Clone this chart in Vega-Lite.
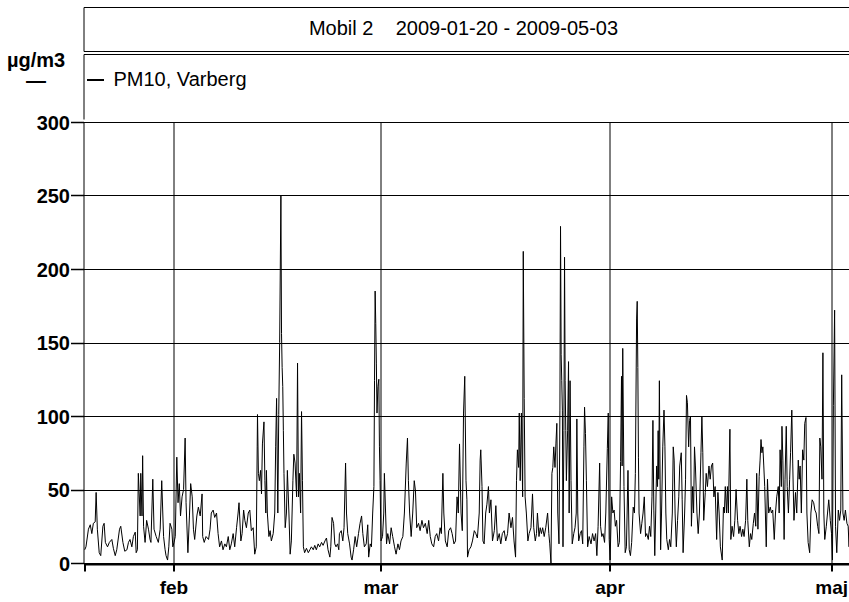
{
"$schema": "https://vega.github.io/schema/vega-lite/v6.json",
"background": "white",
"padding": {"left": 5.5, "top": 7, "right": 0, "bottom": 0},
"bounds": "flush",
"spacing": 3,
"config": {"font": "Liberation Sans", "view": {"stroke": null}},
"vconcat": [
{
"width": 766, "height": 44,
"data": {"values": [{"label": "Mobil 2\u00a0\u00a0\u00a0\u00a02009-01-20 - 2009-05-03"}]},
"mark": {"type": "text", "fontSize": 20, "font": "Liberation Sans", "color": "black", "baseline": "middle", "align": "center", "dx": -3},
"encoding": {
"text": {"field": "label"},
"y": {"datum": 0.5, "type": "quantitative", "scale": {"domain": [0, 1], "nice": false, "zero": false},
"axis": {"title": null, "labels": false, "ticks": false, "domain": true, "domainColor": "black", "domainWidth": 1, "grid": true, "gridColor": "black", "gridWidth": 1, "values": [0, 1]}}
}
},
{
"width": 766, "height": 65,
"data": {"values": []},
"mark": {"type": "point", "opacity": 0},
"encoding": {
"y": {"field": "e", "type": "quantitative", "scale": {"domain": [0, 1], "nice": false, "zero": false},
"axis": {"title": null, "labels": false, "ticks": false, "domain": true, "domainColor": "black", "domainWidth": 1, "grid": true, "gridColor": "black", "gridWidth": 1, "values": [1]}}
}
},
{
"width": 766, "height": 441,
"data": {"values": [
{"t":"2009-01-20T00:00","v":9},{"t":"2009-01-20T04:00","v":11},{"t":"2009-01-20T12:00","v":23},{"t":"2009-01-20T18:00","v":26},{"t":"2009-01-20T23:00","v":20},
{"t":"2009-01-21T04:00","v":27},{"t":"2009-01-21T10:00","v":28},{"t":"2009-01-21T13:00","v":48},{"t":"2009-01-21T17:00","v":23},{"t":"2009-01-21T23:00","v":7},
{"t":"2009-01-22T04:00","v":5},{"t":"2009-01-22T11:00","v":25},{"t":"2009-01-22T15:00","v":27},{"t":"2009-01-22T19:00","v":14},
{"t":"2009-01-23T02:00","v":11},{"t":"2009-01-23T08:00","v":14},{"t":"2009-01-23T16:00","v":16},{"t":"2009-01-23T21:00","v":10},
{"t":"2009-01-24T03:00","v":5},{"t":"2009-01-24T08:00","v":9},{"t":"2009-01-24T17:00","v":23},{"t":"2009-01-24T21:00","v":25},
{"t":"2009-01-25T04:00","v":14},{"t":"2009-01-25T10:00","v":8},{"t":"2009-01-25T17:00","v":9},{"t":"2009-01-25T22:00","v":14},
{"t":"2009-01-26T03:00","v":16},{"t":"2009-01-26T09:00","v":11},{"t":"2009-01-26T14:00","v":18},{"t":"2009-01-26T20:00","v":21},{"t":"2009-01-26T23:00","v":7},
{"t":"2009-01-27T03:00","v":9},{"t":"2009-01-27T06:00","v":61},{"t":"2009-01-27T12:00","v":32},{"t":"2009-01-27T14:00","v":61},{"t":"2009-01-27T18:00","v":32},{"t":"2009-01-27T20:00","v":73},{"t":"2009-01-27T23:00","v":25},
{"t":"2009-01-28T04:00","v":14},{"t":"2009-01-28T09:00","v":29},{"t":"2009-01-28T15:00","v":23},{"t":"2009-01-28T20:00","v":16},{"t":"2009-01-28T23:00","v":14},
{"t":"2009-01-29T05:00","v":57},{"t":"2009-01-29T09:00","v":23},{"t":"2009-01-29T16:00","v":18},{"t":"2009-01-29T23:00","v":14},
{"t":"2009-01-30T05:00","v":23},{"t":"2009-01-30T10:00","v":56},{"t":"2009-01-30T16:00","v":18},{"t":"2009-01-30T21:00","v":9},
{"t":"2009-01-31T00:00","v":5},{"t":"2009-01-31T05:00","v":2},{"t":"2009-01-31T09:00","v":11},{"t":"2009-01-31T13:00","v":27},{"t":"2009-01-31T19:00","v":23},{"t":"2009-01-31T22:00","v":11},
{"t":"2009-02-01T02:00","v":14},{"t":"2009-02-01T06:00","v":18},{"t":"2009-02-01T11:00","v":72},{"t":"2009-02-01T15:00","v":41},{"t":"2009-02-01T19:00","v":54},{"t":"2009-02-01T23:00","v":32},
{"t":"2009-02-02T04:00","v":45},{"t":"2009-02-02T09:00","v":50},{"t":"2009-02-02T14:00","v":85},{"t":"2009-02-02T17:00","v":41},{"t":"2009-02-02T23:00","v":7},
{"t":"2009-02-03T04:00","v":32},{"t":"2009-02-03T08:00","v":54},{"t":"2009-02-03T13:00","v":45},{"t":"2009-02-03T17:00","v":23},{"t":"2009-02-03T21:00","v":16},
{"t":"2009-02-04T04:00","v":32},{"t":"2009-02-04T09:00","v":38},{"t":"2009-02-04T15:00","v":32},{"t":"2009-02-04T21:00","v":47},{"t":"2009-02-04T23:00","v":18},
{"t":"2009-02-05T04:00","v":14},{"t":"2009-02-05T10:00","v":18},{"t":"2009-02-05T18:00","v":16},{"t":"2009-02-05T23:00","v":23},
{"t":"2009-02-06T03:00","v":34},{"t":"2009-02-06T09:00","v":36},{"t":"2009-02-06T14:00","v":31},{"t":"2009-02-06T20:00","v":34},
{"t":"2009-02-07T01:00","v":20},{"t":"2009-02-07T06:00","v":11},{"t":"2009-02-07T12:00","v":15},{"t":"2009-02-07T17:00","v":9},{"t":"2009-02-07T23:00","v":13},
{"t":"2009-02-08T04:00","v":11},{"t":"2009-02-08T10:00","v":18},{"t":"2009-02-08T15:00","v":9},{"t":"2009-02-08T20:00","v":13},
{"t":"2009-02-09T02:00","v":20},{"t":"2009-02-09T07:00","v":11},{"t":"2009-02-09T13:00","v":24},{"t":"2009-02-09T18:00","v":34},{"t":"2009-02-09T21:00","v":41},
{"t":"2009-02-10T03:00","v":15},{"t":"2009-02-10T07:00","v":20},{"t":"2009-02-10T12:00","v":36},{"t":"2009-02-10T16:00","v":29},{"t":"2009-02-10T21:00","v":24},
{"t":"2009-02-11T03:00","v":34},{"t":"2009-02-11T08:00","v":36},{"t":"2009-02-11T13:00","v":22},{"t":"2009-02-11T19:00","v":24},
{"t":"2009-02-12T00:00","v":6},{"t":"2009-02-12T05:00","v":11},{"t":"2009-02-12T08:00","v":79},{"t":"2009-02-12T09:00","v":101},{"t":"2009-02-12T12:00","v":61},{"t":"2009-02-12T15:00","v":56},{"t":"2009-02-12T19:00","v":63},{"t":"2009-02-12T22:00","v":47},
{"t":"2009-02-13T01:00","v":81},{"t":"2009-02-13T06:00","v":96},{"t":"2009-02-13T09:00","v":56},{"t":"2009-02-13T12:00","v":34},{"t":"2009-02-13T14:00","v":63},{"t":"2009-02-13T17:00","v":34},{"t":"2009-02-13T22:00","v":18},
{"t":"2009-02-14T02:00","v":22},{"t":"2009-02-14T06:00","v":15},{"t":"2009-02-14T12:00","v":20},{"t":"2009-02-14T17:00","v":34},{"t":"2009-02-14T20:00","v":79},{"t":"2009-02-14T23:00","v":112},
{"t":"2009-02-15T03:00","v":34},{"t":"2009-02-15T06:00","v":101},{"t":"2009-02-15T09:00","v":150},{"t":"2009-02-15T13:00","v":250},{"t":"2009-02-15T15:00","v":156},{"t":"2009-02-15T17:00","v":133},{"t":"2009-02-15T19:00","v":120},{"t":"2009-02-15T21:00","v":90},{"t":"2009-02-15T23:00","v":61},
{"t":"2009-02-16T03:00","v":24},{"t":"2009-02-16T07:00","v":34},{"t":"2009-02-16T10:00","v":63},{"t":"2009-02-16T15:00","v":34},{"t":"2009-02-16T19:00","v":6},{"t":"2009-02-16T23:00","v":15},
{"t":"2009-02-17T04:00","v":56},{"t":"2009-02-17T07:00","v":74},{"t":"2009-02-17T11:00","v":68},{"t":"2009-02-17T16:00","v":45},{"t":"2009-02-17T19:00","v":136},{"t":"2009-02-17T22:00","v":45},
{"t":"2009-02-18T01:00","v":61},{"t":"2009-02-18T05:00","v":34},{"t":"2009-02-18T08:00","v":103},{"t":"2009-02-18T11:00","v":56},{"t":"2009-02-18T14:00","v":11},{"t":"2009-02-18T18:00","v":7},
{"t":"2009-02-19T00:00","v":10},{"t":"2009-02-19T06:00","v":7},{"t":"2009-02-19T11:00","v":9},{"t":"2009-02-19T16:00","v":11},{"t":"2009-02-19T22:00","v":9},
{"t":"2009-02-20T03:00","v":12},{"t":"2009-02-20T08:00","v":9},{"t":"2009-02-20T14:00","v":13},{"t":"2009-02-20T19:00","v":11},
{"t":"2009-02-21T01:00","v":14},{"t":"2009-02-21T06:00","v":12},{"t":"2009-02-21T12:00","v":15},{"t":"2009-02-21T17:00","v":17},{"t":"2009-02-21T22:00","v":9},
{"t":"2009-02-22T04:00","v":4},{"t":"2009-02-22T07:00","v":11},{"t":"2009-02-22T11:00","v":31},{"t":"2009-02-22T16:00","v":27},{"t":"2009-02-22T20:00","v":13},
{"t":"2009-02-23T00:00","v":11},{"t":"2009-02-23T05:00","v":13},{"t":"2009-02-23T09:00","v":9},{"t":"2009-02-23T11:00","v":20},{"t":"2009-02-23T17:00","v":22},{"t":"2009-02-23T22:00","v":15},
{"t":"2009-02-24T02:00","v":24},{"t":"2009-02-24T07:00","v":68},{"t":"2009-02-24T10:00","v":34},{"t":"2009-02-24T14:00","v":20},{"t":"2009-02-24T20:00","v":13},
{"t":"2009-02-25T01:00","v":4},{"t":"2009-02-25T04:00","v":2},{"t":"2009-02-25T09:00","v":9},{"t":"2009-02-25T14:00","v":18},{"t":"2009-02-25T19:00","v":11},
{"t":"2009-02-26T01:00","v":20},{"t":"2009-02-26T06:00","v":27},{"t":"2009-02-26T11:00","v":32},{"t":"2009-02-26T15:00","v":20},{"t":"2009-02-26T20:00","v":11},
{"t":"2009-02-27T02:00","v":13},{"t":"2009-02-27T07:00","v":26},{"t":"2009-02-27T10:00","v":4},{"t":"2009-02-27T15:00","v":13},{"t":"2009-02-27T19:00","v":11},{"t":"2009-02-27T23:00","v":34},
{"t":"2009-02-28T03:00","v":52},{"t":"2009-02-28T05:00","v":124},{"t":"2009-02-28T07:00","v":185},{"t":"2009-02-28T09:00","v":163},{"t":"2009-02-28T11:00","v":136},{"t":"2009-02-28T13:00","v":102},{"t":"2009-02-28T16:00","v":120},{"t":"2009-02-28T19:00","v":125},{"t":"2009-02-28T21:00","v":79},{"t":"2009-02-28T23:00","v":56},
{"t":"2009-03-01T02:00","v":15},{"t":"2009-03-01T07:00","v":18},{"t":"2009-03-01T11:00","v":34},{"t":"2009-03-01T13:00","v":61},{"t":"2009-03-01T17:00","v":34},{"t":"2009-03-01T20:00","v":13},
{"t":"2009-03-02T00:00","v":20},{"t":"2009-03-02T06:00","v":13},{"t":"2009-03-02T11:00","v":24},{"t":"2009-03-02T16:00","v":18},{"t":"2009-03-02T22:00","v":11},
{"t":"2009-03-03T03:00","v":6},{"t":"2009-03-03T09:00","v":13},{"t":"2009-03-03T14:00","v":9},{"t":"2009-03-03T19:00","v":15},
{"t":"2009-03-04T01:00","v":18},{"t":"2009-03-04T06:00","v":34},{"t":"2009-03-04T12:00","v":68},{"t":"2009-03-04T16:00","v":85},{"t":"2009-03-04T19:00","v":56},{"t":"2009-03-04T23:00","v":34},
{"t":"2009-03-05T04:00","v":18},{"t":"2009-03-05T09:00","v":34},{"t":"2009-03-05T14:00","v":56},{"t":"2009-03-05T18:00","v":49},{"t":"2009-03-05T22:00","v":24},
{"t":"2009-03-06T04:00","v":27},{"t":"2009-03-06T09:00","v":22},{"t":"2009-03-06T15:00","v":29},{"t":"2009-03-06T20:00","v":24},
{"t":"2009-03-07T02:00","v":27},{"t":"2009-03-07T08:00","v":20},{"t":"2009-03-07T13:00","v":29},{"t":"2009-03-07T18:00","v":18},{"t":"2009-03-07T23:00","v":13},
{"t":"2009-03-08T05:00","v":11},{"t":"2009-03-08T10:00","v":18},{"t":"2009-03-08T15:00","v":20},{"t":"2009-03-08T21:00","v":15},
{"t":"2009-03-09T02:00","v":24},{"t":"2009-03-09T06:00","v":20},{"t":"2009-03-09T11:00","v":61},{"t":"2009-03-09T14:00","v":34},{"t":"2009-03-09T19:00","v":15},
{"t":"2009-03-10T01:00","v":11},{"t":"2009-03-10T06:00","v":22},{"t":"2009-03-10T12:00","v":24},{"t":"2009-03-10T17:00","v":20},{"t":"2009-03-10T23:00","v":13},
{"t":"2009-03-11T04:00","v":15},{"t":"2009-03-11T09:00","v":45},{"t":"2009-03-11T13:00","v":34},{"t":"2009-03-11T17:00","v":81},{"t":"2009-03-11T22:00","v":34},
{"t":"2009-03-12T02:00","v":22},{"t":"2009-03-12T06:00","v":102},{"t":"2009-03-12T10:00","v":127},{"t":"2009-03-12T14:00","v":56},{"t":"2009-03-12T17:00","v":43},{"t":"2009-03-12T19:00","v":4},
{"t":"2009-03-13T00:00","v":9},{"t":"2009-03-13T06:00","v":11},{"t":"2009-03-13T11:00","v":15},{"t":"2009-03-13T17:00","v":22},{"t":"2009-03-13T22:00","v":20},
{"t":"2009-03-14T03:00","v":17},{"t":"2009-03-14T09:00","v":34},{"t":"2009-03-14T12:00","v":70},{"t":"2009-03-14T14:00","v":77},{"t":"2009-03-14T18:00","v":52},{"t":"2009-03-14T21:00","v":15},
{"t":"2009-03-15T01:00","v":13},{"t":"2009-03-15T06:00","v":34},{"t":"2009-03-15T10:00","v":40},{"t":"2009-03-15T15:00","v":52},{"t":"2009-03-15T18:00","v":34},{"t":"2009-03-15T23:00","v":43},
{"t":"2009-03-16T04:00","v":15},{"t":"2009-03-16T10:00","v":22},{"t":"2009-03-16T15:00","v":39},{"t":"2009-03-16T20:00","v":15},
{"t":"2009-03-17T02:00","v":20},{"t":"2009-03-17T07:00","v":13},{"t":"2009-03-17T12:00","v":20},{"t":"2009-03-17T18:00","v":22},{"t":"2009-03-17T23:00","v":15},
{"t":"2009-03-18T05:00","v":20},{"t":"2009-03-18T10:00","v":34},{"t":"2009-03-18T16:00","v":24},{"t":"2009-03-18T21:00","v":31},
{"t":"2009-03-19T02:00","v":15},{"t":"2009-03-19T07:00","v":4},{"t":"2009-03-19T10:00","v":56},{"t":"2009-03-19T13:00","v":77},{"t":"2009-03-19T17:00","v":65},{"t":"2009-03-19T19:00","v":102},{"t":"2009-03-19T22:00","v":56},
{"t":"2009-03-20T02:00","v":102},{"t":"2009-03-20T06:00","v":45},{"t":"2009-03-20T08:00","v":212},{"t":"2009-03-20T11:00","v":112},{"t":"2009-03-20T14:00","v":45},{"t":"2009-03-20T18:00","v":34},{"t":"2009-03-20T23:00","v":15},
{"t":"2009-03-21T03:00","v":20},{"t":"2009-03-21T09:00","v":24},{"t":"2009-03-21T14:00","v":47},{"t":"2009-03-21T18:00","v":24},{"t":"2009-03-21T23:00","v":15},
{"t":"2009-03-22T03:00","v":20},{"t":"2009-03-22T06:00","v":34},{"t":"2009-03-22T11:00","v":18},{"t":"2009-03-22T15:00","v":24},{"t":"2009-03-22T19:00","v":20},{"t":"2009-03-22T23:00","v":24},
{"t":"2009-03-23T04:00","v":18},{"t":"2009-03-23T09:00","v":24},{"t":"2009-03-23T15:00","v":34},{"t":"2009-03-23T19:00","v":20},{"t":"2009-03-23T22:00","v":13},
{"t":"2009-03-24T02:00","v":0},{"t":"2009-03-24T05:00","v":61},{"t":"2009-03-24T08:00","v":65},{"t":"2009-03-24T11:00","v":79},{"t":"2009-03-24T15:00","v":65},{"t":"2009-03-24T18:00","v":81},{"t":"2009-03-24T21:00","v":95},
{"t":"2009-03-25T00:00","v":34},{"t":"2009-03-25T04:00","v":13},{"t":"2009-03-25T07:00","v":104},{"t":"2009-03-25T09:00","v":229},{"t":"2009-03-25T11:00","v":142},{"t":"2009-03-25T13:00","v":124},{"t":"2009-03-25T15:00","v":104},{"t":"2009-03-25T17:00","v":11},{"t":"2009-03-25T20:00","v":90},{"t":"2009-03-25T22:00","v":208},
{"t":"2009-03-26T00:00","v":124},{"t":"2009-03-26T02:00","v":90},{"t":"2009-03-26T04:00","v":56},{"t":"2009-03-26T08:00","v":90},{"t":"2009-03-26T11:00","v":137},{"t":"2009-03-26T13:00","v":34},{"t":"2009-03-26T16:00","v":124},{"t":"2009-03-26T19:00","v":56},{"t":"2009-03-26T23:00","v":13},
{"t":"2009-03-27T04:00","v":20},{"t":"2009-03-27T08:00","v":24},{"t":"2009-03-27T12:00","v":34},{"t":"2009-03-27T14:00","v":98},{"t":"2009-03-27T17:00","v":34},{"t":"2009-03-27T20:00","v":15},
{"t":"2009-03-28T01:00","v":20},{"t":"2009-03-28T05:00","v":22},{"t":"2009-03-28T09:00","v":13},{"t":"2009-03-28T13:00","v":79},{"t":"2009-03-28T15:00","v":106},{"t":"2009-03-28T18:00","v":88},{"t":"2009-03-28T21:00","v":56},
{"t":"2009-03-29T01:00","v":11},{"t":"2009-03-29T06:00","v":18},{"t":"2009-03-29T12:00","v":13},{"t":"2009-03-29T17:00","v":20},{"t":"2009-03-29T22:00","v":15},
{"t":"2009-03-30T03:00","v":20},{"t":"2009-03-30T07:00","v":5},{"t":"2009-03-30T11:00","v":25},{"t":"2009-03-30T16:00","v":68},{"t":"2009-03-30T19:00","v":25},{"t":"2009-03-30T23:00","v":18},
{"t":"2009-03-31T03:00","v":20},{"t":"2009-03-31T08:00","v":14},{"t":"2009-03-31T12:00","v":34},{"t":"2009-03-31T17:00","v":78},{"t":"2009-03-31T20:00","v":102},{"t":"2009-03-31T23:00","v":16},
{"t":"2009-04-01T02:00","v":2},{"t":"2009-04-01T07:00","v":45},{"t":"2009-04-01T11:00","v":34},{"t":"2009-04-01T15:00","v":36},{"t":"2009-04-01T19:00","v":25},{"t":"2009-04-01T23:00","v":29},
{"t":"2009-04-02T04:00","v":11},{"t":"2009-04-02T08:00","v":14},{"t":"2009-04-02T12:00","v":69},{"t":"2009-04-02T15:00","v":127},{"t":"2009-04-02T17:00","v":66},{"t":"2009-04-02T19:00","v":146},{"t":"2009-04-02T23:00","v":52},
{"t":"2009-04-03T03:00","v":7},{"t":"2009-04-03T07:00","v":11},{"t":"2009-04-03T12:00","v":63},{"t":"2009-04-03T16:00","v":9},{"t":"2009-04-03T20:00","v":5},
{"t":"2009-04-04T00:00","v":14},{"t":"2009-04-04T05:00","v":38},{"t":"2009-04-04T09:00","v":34},{"t":"2009-04-04T12:00","v":61},{"t":"2009-04-04T16:00","v":166},{"t":"2009-04-04T18:00","v":178},{"t":"2009-04-04T20:00","v":133},{"t":"2009-04-04T22:00","v":72},
{"t":"2009-04-05T00:00","v":34},{"t":"2009-04-05T05:00","v":20},{"t":"2009-04-05T09:00","v":27},{"t":"2009-04-05T13:00","v":34},{"t":"2009-04-05T17:00","v":45},{"t":"2009-04-05T21:00","v":18},
{"t":"2009-04-06T01:00","v":20},{"t":"2009-04-06T06:00","v":16},{"t":"2009-04-06T10:00","v":25},{"t":"2009-04-06T14:00","v":18},{"t":"2009-04-06T18:00","v":45},{"t":"2009-04-06T21:00","v":97},
{"t":"2009-04-07T00:00","v":36},{"t":"2009-04-07T03:00","v":5},{"t":"2009-04-07T06:00","v":34},{"t":"2009-04-07T09:00","v":66},{"t":"2009-04-07T12:00","v":52},{"t":"2009-04-07T14:00","v":90},{"t":"2009-04-07T16:00","v":57},{"t":"2009-04-07T18:00","v":124},{"t":"2009-04-07T22:00","v":9},
{"t":"2009-04-08T01:00","v":34},{"t":"2009-04-08T05:00","v":79},{"t":"2009-04-08T09:00","v":104},{"t":"2009-04-08T12:00","v":79},{"t":"2009-04-08T15:00","v":34},{"t":"2009-04-08T18:00","v":16},{"t":"2009-04-08T23:00","v":9},
{"t":"2009-04-09T03:00","v":16},{"t":"2009-04-09T07:00","v":11},{"t":"2009-04-09T12:00","v":34},{"t":"2009-04-09T15:00","v":79},{"t":"2009-04-09T18:00","v":70},{"t":"2009-04-09T21:00","v":34},
{"t":"2009-04-10T01:00","v":11},{"t":"2009-04-10T05:00","v":29},{"t":"2009-04-10T09:00","v":45},{"t":"2009-04-10T12:00","v":66},{"t":"2009-04-10T17:00","v":75},{"t":"2009-04-10T20:00","v":43},{"t":"2009-04-10T23:00","v":7},
{"t":"2009-04-11T04:00","v":34},{"t":"2009-04-11T07:00","v":57},{"t":"2009-04-11T10:00","v":114},{"t":"2009-04-11T13:00","v":109},{"t":"2009-04-11T17:00","v":79},{"t":"2009-04-11T20:00","v":97},{"t":"2009-04-11T23:00","v":100},
{"t":"2009-04-12T02:00","v":25},{"t":"2009-04-12T06:00","v":52},{"t":"2009-04-12T09:00","v":34},{"t":"2009-04-12T12:00","v":79},{"t":"2009-04-12T15:00","v":66},{"t":"2009-04-12T20:00","v":34},
{"t":"2009-04-13T00:00","v":20},{"t":"2009-04-13T04:00","v":34},{"t":"2009-04-13T09:00","v":75},{"t":"2009-04-13T12:00","v":100},{"t":"2009-04-13T15:00","v":75},{"t":"2009-04-13T18:00","v":29},{"t":"2009-04-13T23:00","v":48},
{"t":"2009-04-14T02:00","v":61},{"t":"2009-04-14T06:00","v":52},{"t":"2009-04-14T11:00","v":66},{"t":"2009-04-14T15:00","v":57},{"t":"2009-04-14T19:00","v":66},{"t":"2009-04-14T23:00","v":68},
{"t":"2009-04-15T03:00","v":45},{"t":"2009-04-15T07:00","v":52},{"t":"2009-04-15T12:00","v":16},{"t":"2009-04-15T16:00","v":48},{"t":"2009-04-15T20:00","v":34},
{"t":"2009-04-16T00:00","v":11},{"t":"2009-04-16T06:00","v":2},{"t":"2009-04-16T10:00","v":38},{"t":"2009-04-16T13:00","v":34},{"t":"2009-04-16T16:00","v":52},{"t":"2009-04-16T20:00","v":34},{"t":"2009-04-16T23:00","v":52},
{"t":"2009-04-17T02:00","v":34},{"t":"2009-04-17T07:00","v":91},{"t":"2009-04-17T10:00","v":16},{"t":"2009-04-17T14:00","v":25},{"t":"2009-04-17T19:00","v":18},{"t":"2009-04-17T23:00","v":29},
{"t":"2009-04-18T03:00","v":50},{"t":"2009-04-18T08:00","v":29},{"t":"2009-04-18T12:00","v":20},{"t":"2009-04-18T16:00","v":25},{"t":"2009-04-18T21:00","v":18},
{"t":"2009-04-19T01:00","v":23},{"t":"2009-04-19T05:00","v":18},{"t":"2009-04-19T10:00","v":29},{"t":"2009-04-19T14:00","v":57},{"t":"2009-04-19T17:00","v":29},{"t":"2009-04-19T22:00","v":11},
{"t":"2009-04-20T02:00","v":20},{"t":"2009-04-20T06:00","v":16},{"t":"2009-04-20T11:00","v":27},{"t":"2009-04-20T15:00","v":34},{"t":"2009-04-20T19:00","v":25},{"t":"2009-04-20T22:00","v":61},
{"t":"2009-04-21T02:00","v":23},{"t":"2009-04-21T06:00","v":59},{"t":"2009-04-21T09:00","v":70},{"t":"2009-04-21T12:00","v":84},{"t":"2009-04-21T15:00","v":75},{"t":"2009-04-21T18:00","v":79},{"t":"2009-04-21T21:00","v":66},
{"t":"2009-04-22T00:00","v":52},{"t":"2009-04-22T05:00","v":11},{"t":"2009-04-22T09:00","v":57},{"t":"2009-04-22T13:00","v":34},{"t":"2009-04-22T18:00","v":38},{"t":"2009-04-22T22:00","v":34},
{"t":"2009-04-23T02:00","v":36},{"t":"2009-04-23T07:00","v":16},{"t":"2009-04-23T11:00","v":34},{"t":"2009-04-23T15:00","v":45},{"t":"2009-04-23T20:00","v":52},{"t":"2009-04-23T23:00","v":34},
{"t":"2009-04-24T02:00","v":77},{"t":"2009-04-24T06:00","v":52},{"t":"2009-04-24T08:00","v":93},{"t":"2009-04-24T11:00","v":70},{"t":"2009-04-24T15:00","v":16},{"t":"2009-04-24T18:00","v":57},{"t":"2009-04-24T22:00","v":93},
{"t":"2009-04-25T01:00","v":52},{"t":"2009-04-25T05:00","v":34},{"t":"2009-04-25T09:00","v":57},{"t":"2009-04-25T12:00","v":75},{"t":"2009-04-25T16:00","v":104},{"t":"2009-04-25T19:00","v":68},{"t":"2009-04-25T23:00","v":29},
{"t":"2009-04-26T04:00","v":48},{"t":"2009-04-26T08:00","v":34},{"t":"2009-04-26T13:00","v":70},{"t":"2009-04-26T16:00","v":57},{"t":"2009-04-26T19:00","v":66},{"t":"2009-04-26T23:00","v":34},
{"t":"2009-04-27T03:00","v":77},{"t":"2009-04-27T07:00","v":70},{"t":"2009-04-27T10:00","v":95},{"t":"2009-04-27T14:00","v":99},{"t":"2009-04-27T17:00","v":34},{"t":"2009-04-27T21:00","v":14},
{"t":"2009-04-28T02:00","v":7},{"t":"2009-04-28T06:00","v":34},{"t":"2009-04-28T10:00","v":43},{"t":"2009-04-28T15:00","v":41},{"t":"2009-04-28T19:00","v":36},{"t":"2009-04-28T23:00","v":34},
{"t":"2009-04-29T04:00","v":25},{"t":"2009-04-29T08:00","v":20},{"t":"2009-04-29T11:00","v":85},{"t":"2009-04-29T14:00","v":79},{"t":"2009-04-29T18:00","v":57},{"t":"2009-04-29T21:00","v":143},
{"t":"2009-04-30T00:00","v":34},{"t":"2009-04-30T03:00","v":16},{"t":"2009-04-30T08:00","v":25},{"t":"2009-04-30T12:00","v":34},{"t":"2009-04-30T16:00","v":43},{"t":"2009-04-30T21:00","v":29},
{"t":"2009-05-01T01:00","v":20},{"t":"2009-05-01T04:00","v":2},{"t":"2009-05-01T07:00","v":107},{"t":"2009-05-01T11:00","v":172},{"t":"2009-05-01T14:00","v":25},{"t":"2009-05-01T18:00","v":7},{"t":"2009-05-01T23:00","v":36},
{"t":"2009-05-02T03:00","v":29},{"t":"2009-05-02T07:00","v":36},{"t":"2009-05-02T10:00","v":128},{"t":"2009-05-02T14:00","v":34},{"t":"2009-05-02T18:00","v":29},{"t":"2009-05-02T22:00","v":36},
{"t":"2009-05-03T03:00","v":27},{"t":"2009-05-03T07:00","v":25},{"t":"2009-05-03T10:00","v":11},{"t":"2009-05-03T12:00","v":47}
]},
"mark": {"type": "line", "strokeWidth": 1, "interpolate": "linear"},
"encoding": {
"x": {"field": "t", "type": "temporal",
"scale": {"domain": [{"year": 2009, "month": 1, "date": 19, "hours": 20}, {"year": 2009, "month": 5, "date": 3, "hours": 11, "minutes": 20}]},
"axis": {"title": null,
"values": [{"year": 2009, "month": 1, "date": 20}, {"year": 2009, "month": 2, "date": 1}, {"year": 2009, "month": 3, "date": 1}, {"year": 2009, "month": 4, "date": 1}, {"year": 2009, "month": 5, "date": 1}],
"labelExpr": "date(datum.value) == 1 ? ['jan','feb','mar','apr','maj','jun'][month(datum.value)] : ''",
"labelFont": "Liberation Sans", "labelFontSize": 19, "labelFontWeight": "bold", "labelColor": "black",
"labelFlush": false, "labelOverlap": false, "labelPadding": 7,
"tickSize": 7, "tickColor": "black", "tickWidth": 2,
"domainColor": "black", "domainWidth": 2, "offset": 1,
"grid": true, "gridColor": "black", "gridWidth": 1,
"gridOpacity": {"condition": {"test": "date(datum.value) == 20", "value": 0}, "value": 1}}},
"y": {"field": "v", "type": "quantitative",
"scale": {"domain": [0, 300], "nice": false},
"axis": {"values": [0, 50, 100, 150, 200, 250, 300],
"title": ["µg/m3", "—"], "titleAngle": 0, "titleX": -48, "titleY": -56, "titleAlign": "center", "titleBaseline": "alphabetic",
"titleFont": "Liberation Sans", "titleFontSize": 20, "titleFontWeight": "bold", "titleColor": "black", "titleLineHeight": 20,
"labelFont": "Liberation Sans", "labelFontSize": 20, "labelFontWeight": "bold", "labelColor": "black", "labelPadding": 1, "labelOffset": 1,
"tickSize": 13, "tickColor": "black", "tickWidth": 1.5,
"domainColor": "black", "domainWidth": 1,
"grid": true, "gridColor": "black", "gridWidth": 1}},
"color": {"datum": "PM10, Varberg", "type": "nominal", "scale": {"range": ["black"]},
"legend": {"title": null, "orient": "none", "legendX": 2, "legendY": -52, "padding": 0,
"symbolType": "stroke", "symbolStrokeWidth": 2, "symbolSize": 289,
"labelFont": "Liberation Sans", "labelFontSize": 20, "labelColor": "black", "labelOffset": 8}}
}
}
],
"resolve": {"scale": {"y": "independent"}, "legend": {"color": "independent"}}
}
